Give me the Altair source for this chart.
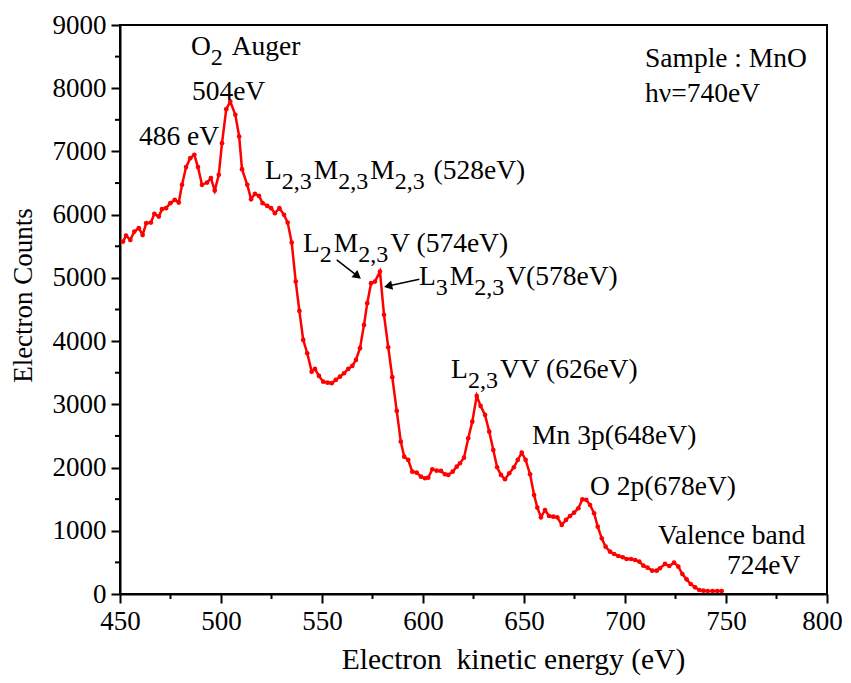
import math
import altair as alt
import pandas as pd

# ---------------- data ----------------
energy = [451.5, 453.0, 455.1, 457.1, 459.3, 461.2, 463.0, 465.3, 467.0, 469.2,
          470.8, 472.8, 474.9, 477.1, 479.1, 480.7, 482.7, 484.8, 486.8, 488.6,
          490.6, 493.1, 495.0, 496.9, 498.9, 500.5, 502.6, 504.6, 507.1, 509.0,
          510.4,
          513.0, 514.9, 516.8, 518.8, 520.6, 522.9, 524.8, 526.7, 528.9, 531.2,
          533.0, 535.0, 537.0, 538.8, 540.7, 542.7, 544.9, 546.5, 548.5, 550.6,
          552.8, 554.8, 556.8, 558.9,
          560.9, 563.0, 565.0, 566.8, 568.8, 570.8, 572.4, 574.3, 576.2, 578.7,
          580.7, 582.8, 584.8, 587.0, 589.0, 590.7, 592.7, 594.7, 596.9, 599.0,
          601.0, 602.6, 604.6, 606.8, 608.9, 610.9, 612.5, 614.7, 616.7,
          618.3, 620.3, 622.4, 624.4, 626.6, 628.5, 630.7, 632.8, 634.8, 636.7,
          638.6, 640.6, 642.7, 645.0, 646.9, 648.9, 650.8, 653.0, 655.0, 656.6,
          658.4, 660.4, 662.4, 664.5, 666.5, 668.7, 670.8, 672.8, 674.8, 676.9,
          678.9,
          680.8, 682.7, 684.7, 686.5, 688.5, 690.4, 692.6, 694.6, 696.7, 698.9,
          700.8, 703.0, 705.0, 707.1, 709.1, 711.2, 713.5, 715.7, 717.3, 719.8,
          721.9, 724.3, 726.4, 728.4, 730.5, 732.5, 734.7, 736.8, 738.8, 740.9,
          743.4, 745.7, 747.9]

counts = [5574, 5669, 5601, 5733, 5786, 5680, 5865, 5875, 6013, 5970,
          6087, 6103, 6182, 6234, 6191, 6472, 6752, 6894, 6946, 6752,
          6472, 6508, 6578, 6381, 6630, 7131, 7669, 7790, 7579, 7236,
          6720,
          6472, 6245, 6329, 6297, 6182, 6139, 6103, 6024, 6103, 5997,
          5875, 5559, 4941, 4478, 4019, 3808, 3517, 3560, 3449, 3359,
          3343, 3334, 3386, 3438,
          3492, 3560, 3608, 3703, 3888, 4256, 4600, 4916, 4941, 5100,
          4415, 3903, 3429, 2896, 2410, 2172, 2120, 1935, 1919, 1856,
          1831, 1840, 1973, 1951, 1946, 1894, 1883, 1935, 2014,
          2068, 2157, 2464, 2726, 3133, 2975, 2832, 2568, 2278, 2005,
          1883, 1815, 1910, 2005, 2120, 2236, 2120, 1894, 1566, 1366,
          1213, 1329, 1234, 1223, 1213, 1092, 1171, 1234, 1286, 1356,
          1498,
          1490, 1408, 1277, 1065, 881, 748, 669, 633, 601, 581,
          554, 554, 538, 511, 448, 416, 369, 369, 407, 475,
          443, 495, 432, 316, 232, 158, 106, 63, 52, 47,
          47, 47, 47]

x_major = [450, 500, 550, 600, 650, 700, 750, 800]
x_minor = [475, 525, 575, 625, 675, 725, 775]
y_major = [0, 1000, 2000, 3000, 4000, 5000, 6000, 7000, 8000, 9000]
y_minor = [500, 1500, 2500, 3500, 4500, 5500, 6500, 7500, 8500]

# annotation texts: (segment, is_subscript)
label_parts = [
    [("O", 0), ("2", 1), (" Auger", 0)],
    [("504eV", 0)],
    [("486 eV", 0)],
    [("L", 0), ("2,3", 1), ("M", 0), ("2,3", 1), ("M", 0), ("2,3", 1), (" (528eV)", 0)],
    [("L", 0), ("2", 1), ("M", 0), ("2,3", 1), ("V (574eV)", 0)],
    [("L", 0), ("3", 1), ("M", 0), ("2,3", 1), ("V(578eV)", 0)],
    [("L", 0), ("2,3", 1), ("VV (626eV)", 0)],
    [("Mn 3p(648eV)", 0)],
    [("O 2p(678eV)", 0)],
    [("Valence band", 0)],
    [("724eV", 0)],
    [("Sample : MnO", 0)],
    [("hν=740eV", 0)],
]
label_x = [485.1, 485.6, 459.4, 521.8, 540.6, 598.0, 613.9, 654.0, 682.7, 716.3, 750.5, 709.9, 709.9]
label_y = [8528, 7816, 7104, 6566, 5411, 4889, 3418, 2373, 1566, 790, 316, 8339, 7785]

arrow_x0 = [557.3, 598.2]
arrow_y0 = [5285, 4979]
arrow_x1 = [569.6, 580.3]
arrow_y1 = [4979, 4853]

# ---------------- layout ----------------
W, H = 707, 569
PX_PER_EV = W / 350.0
PX_PER_CT = H / 9000.0
FONT = "Liberation Serif"
FS = 27.5
SUB_FS = 24
SUB_DY = 10
SUB_GAP = 2

TIMES = {'0': 500, '1': 500, '2': 500, '3': 500, '4': 500, '5': 500, '6': 500,
         '7': 500, '8': 500, '9': 500, ',': 250, ' ': 250, '(': 333, ')': 333,
         'e': 444, 'V': 722, 'L': 611, 'M': 889, 'O': 722, 'A': 722, 'u': 500,
         'g': 500, 'r': 333, 'n': 500, 'p': 500, 'a': 444, 'l': 278, 'c': 444,
         'b': 500, 'd': 500, 'S': 556, 'm': 778, 'h': 500, 'ν': 500, '=': 564,
         ':': 278}


def text_w(s, size):
    return sum(TIMES.get(ch, 500) for ch in s) * size / 1000.0


seg_rows = []
for parts, lx, ly in zip(label_parts, label_x, label_y):
    off = 0.0
    for t, sub in parts:
        size = SUB_FS if sub else FS
        lead = len(t) - len(t.lstrip(" "))
        seg_rows.append({"E": lx + (off + text_w(" " * lead, size)) / PX_PER_EV,
                         "C": ly, "text": t.strip(), "sub": sub})
        off += text_w(t, size) + (SUB_GAP if sub else 0)
seg_df = pd.DataFrame(seg_rows)

df = pd.DataFrame({"E": energy, "C": counts})

arrow_rows = []
for x0, y0, x1, y1 in zip(arrow_x0, arrow_y0, arrow_x1, arrow_y1):
    dxp = (x1 - x0) * PX_PER_EV
    dyp = -(y1 - y0) * PX_PER_CT
    L = math.hypot(dxp, dyp)
    ang = math.degrees(math.atan2(dyp, dxp)) % 360
    back = 5
    cx = x1 - (dxp / L) * back / PX_PER_EV
    cy = y1 + (dyp / L) * back / PX_PER_CT
    arrow_rows.append({"x0": x0, "y0": y0, "cx": cx, "cy": cy, "angle": ang})
arrow_df = pd.DataFrame(arrow_rows)

xs = alt.Scale(domain=[450, 800], nice=False, zero=False)
ys = alt.Scale(domain=[0, 9000], nice=False)
ax_x = alt.Axis(values=x_major, title="Electron\u00a0 kinetic energy (eV)", grid=False,
                tickSize=9, labelPadding=5, titlePadding=11, format="d",
                labelFlush=False, titleFontSize=29.5, titleX=393,
                labelOffset={"condition": {"test": "datum.value == 800", "value": -5}, "value": 0})
ax_y = alt.Axis(values=y_major, title="Electron Counts", grid=False,
                tickSize=9, labelPadding=5, titlePadding=15, format="d",
                labelFlush=False, titleY=270)


def X(f):
    return alt.X(f, scale=xs, axis=ax_x)


def Y(f):
    return alt.Y(f, scale=ys, axis=ax_y)


base = alt.Chart(df)

line = base.mark_line(color="#ff0000", strokeWidth=2.5).encode(x=X("E:Q"), y=Y("C:Q"))
pts = base.mark_circle(color="#ff0000", size=22, opacity=1).encode(x=X("E:Q"), y=Y("C:Q"))

xminor = alt.Chart(pd.DataFrame({"v": x_minor})).mark_rule(color="black", strokeWidth=2).encode(
    x=X("v:Q"), y=alt.value(H), y2=alt.value(H + 5),
)
yminor = alt.Chart(pd.DataFrame({"v": y_minor})).mark_rule(color="black", strokeWidth=2).encode(
    y=Y("v:Q"), x=alt.value(0), x2=alt.value(-5),
)

txt_main = alt.Chart(seg_df).transform_filter("datum.sub == 0").mark_text(
    align="left", baseline="alphabetic", font=FONT, fontSize=FS, color="black"
).encode(x=X("E:Q"), y=Y("C:Q"), text="text:N")
txt_sub = alt.Chart(seg_df).transform_filter("datum.sub == 1").mark_text(
    align="left", baseline="alphabetic", font=FONT, fontSize=SUB_FS, color="black", dy=SUB_DY
).encode(x=X("E:Q"), y=Y("C:Q"), text="text:N")

arr_line = alt.Chart(arrow_df).mark_rule(color="black", strokeWidth=1.5).encode(
    x=X("x0:Q"), y=Y("y0:Q"), x2="cx:Q", y2="cy:Q",
)
arr_head = alt.Chart(arrow_df).mark_point(
    shape="triangle-right", filled=True, color="black", size=90, opacity=1
).encode(
    x=X("cx:Q"), y=Y("cy:Q"),
    angle=alt.Angle("angle:Q", scale=None),
)

chart = alt.layer(line, pts, xminor, yminor, arr_line, arr_head, txt_main, txt_sub).properties(
    width=W, height=H,
    autosize=alt.AutoSizeParams(type="none"),
    padding={"left": 112, "top": 17, "right": 16, "bottom": 88},
).configure_view(
    stroke="black", strokeWidth=2
).configure_axis(
    domainColor="black", domainWidth=2, tickColor="black", tickWidth=2,
    labelFont=FONT, labelFontSize=27, labelColor="black",
    titleFont=FONT, titleFontSize=27, titleFontWeight="normal", titleColor="black",
)

chart.save("out.html", embed_options={"renderer": "svg", "actions": False})
